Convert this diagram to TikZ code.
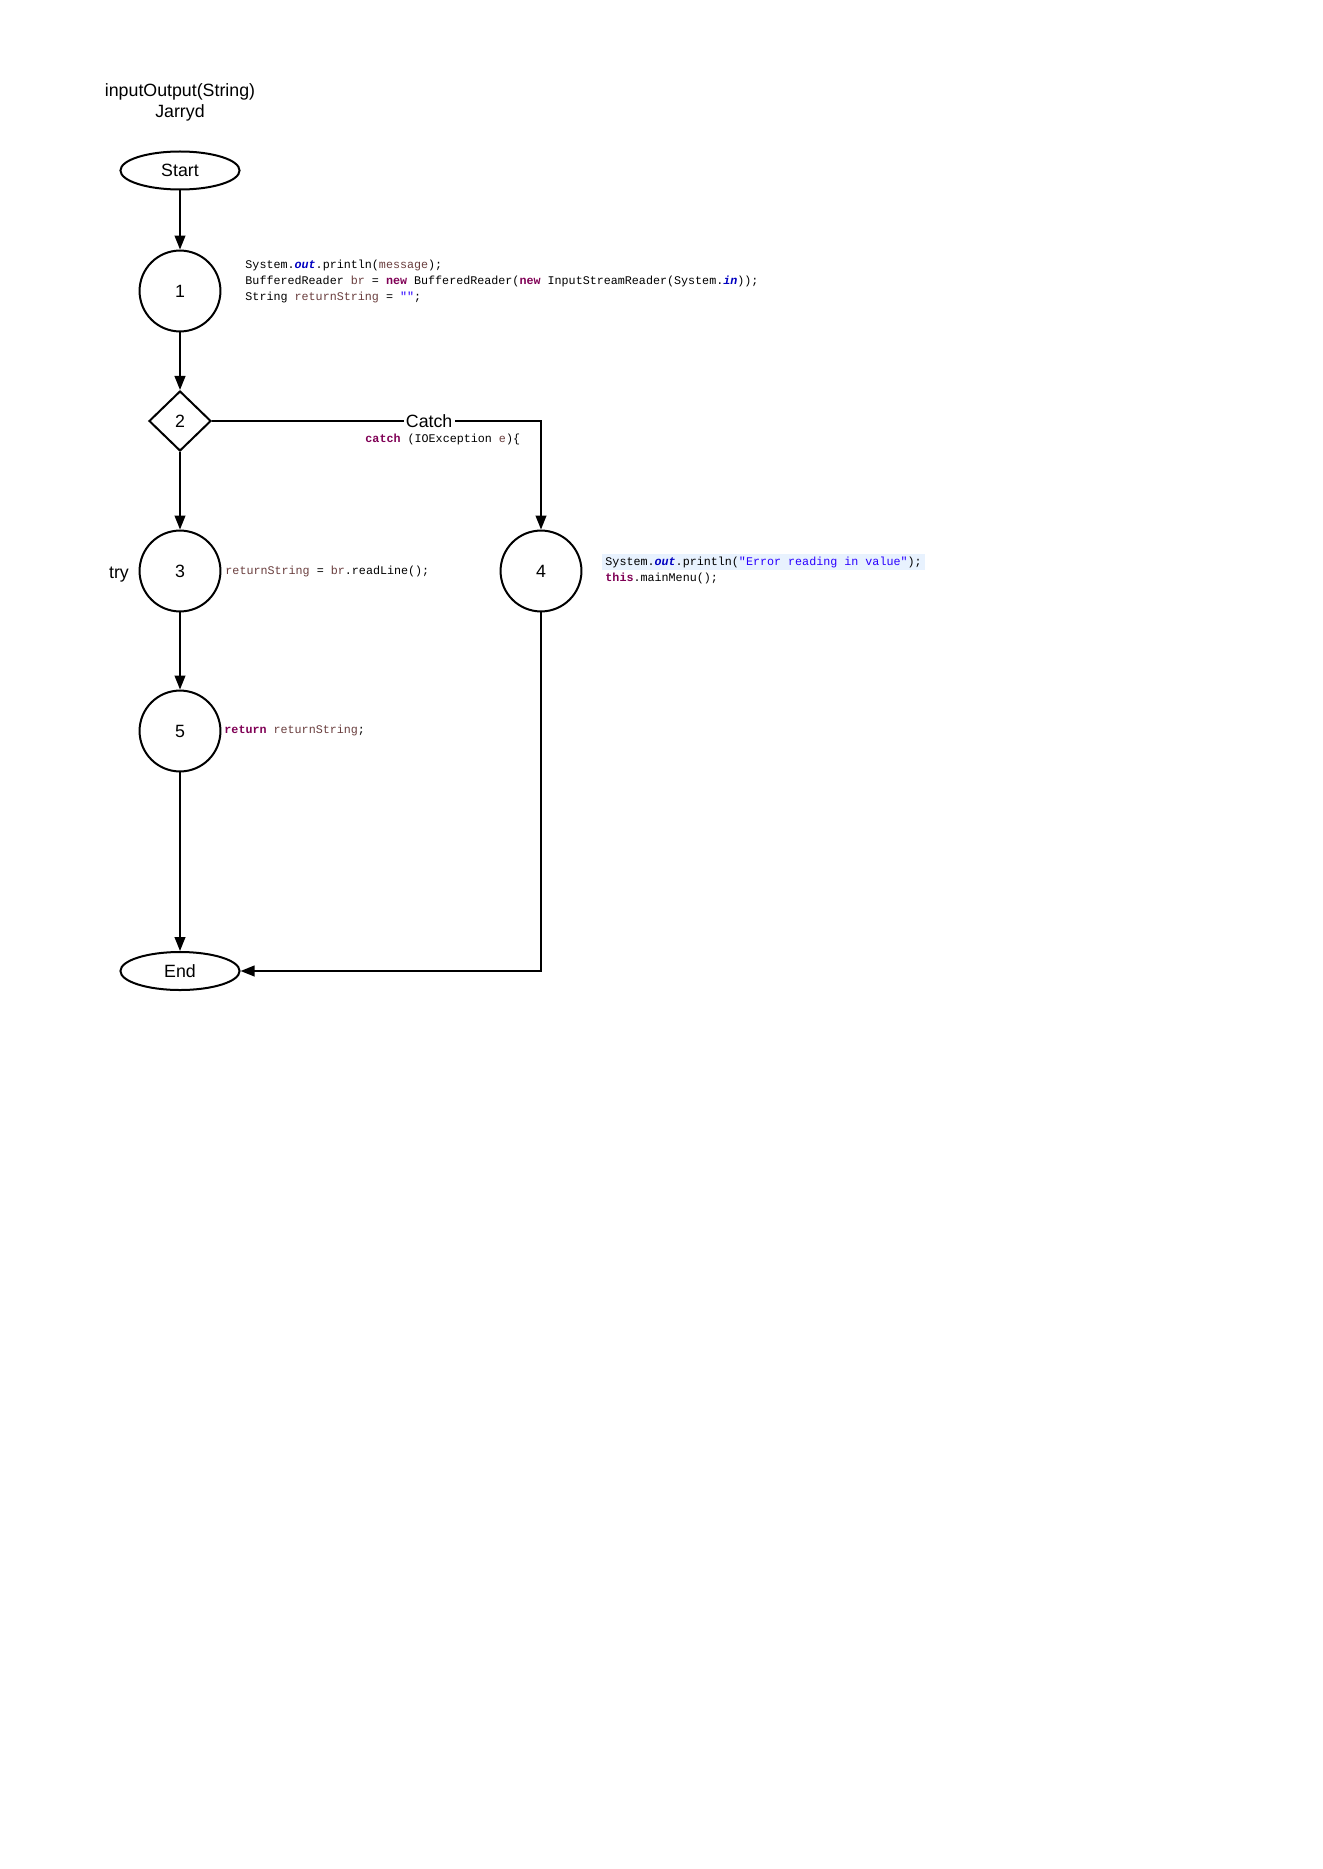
\documentclass[tikz,border=0pt]{standalone}
\usepackage{fontspec}
\setmainfont{Liberation Sans}
\newfontfamily\codefont{Liberation Mono}
\usetikzlibrary{shapes.geometric,arrows.meta}
\definecolor{kw}{HTML}{7F0055}
\definecolor{vr}{HTML}{6A3E3E}
\definecolor{fld}{HTML}{0000C0}
\definecolor{str}{HTML}{2A00FF}
\definecolor{hl}{HTML}{E8F2FE}
\newcommand{\K}[1]{\textcolor{kw}{\bfseries #1}}
\newcommand{\V}[1]{\textcolor{vr}{#1}}
\newcommand{\F}[1]{\textcolor{fld}{\bfseries\itshape #1}}
\newcommand{\St}[1]{\textcolor{str}{#1}}
\begin{document}
\begin{tikzpicture}[x=0.45pt,y=-0.45pt,
  every node/.style={font=\fontsize{8}{9.6}\selectfont},
  term/.style={draw,ellipse,line width=0.9pt,minimum width=53.6pt,minimum height=17.1pt,inner sep=0pt},
  cnode/.style={draw,circle,line width=0.9pt,minimum size=36.4pt,inner sep=0pt},
  dnode/.style={draw,diamond,line width=0.9pt,minimum width=27.9pt,minimum height=27pt,inner sep=0pt,aspect=1},
  arr/.style={line width=0.9pt,-{Triangle[length=6.3pt,width=4.8pt]}},
  code/.style={font=\codefont\fontsize{5.27}{7.1}\selectfont,anchor=west,align=left,inner sep=0pt}]
\useasboundingbox (0,0) rectangle (1323,1869);
\node[align=center] (title) at (180,102.5) {inputOutput(String)\\Jarryd};
\node[term] (start) at (180,170.5) {Start};
\node[cnode] (n1) at (180,291) {1};
\node[dnode] (d2) at (180,421) {2};
\node[cnode] (n3) at (180,571) {3};
\node[cnode] (n4) at (541,571) {4};
\node[cnode] (n5) at (180,731) {5};
\node[term] (end) at (180,971) {End};
\node (try) at (119,575) {try};
% code snippets
\node[code] (c1) at (245,281.5) {System.\F{out}.println(\V{message});\\BufferedReader \V{br} = \K{new} BufferedReader(\K{new} InputStreamReader(System.\F{in}));\\String \V{returnString} = \St{""};};
\node[code] (ccatch) at (365,439) {\K{catch} (IOException \V{e})\{};
\node[code] (c3) at (225,571) {\V{returnString} = \V{br}.readLine();};
\fill[hl] (602,554) rectangle (925,570);
\node[code] (c4) at (605,570.5) {System.\F{out}.println(\St{"Error reading in value"});\\\K{this}.mainMenu();};
\node[code] (c5) at (224,730) {\K{return} \V{returnString};};
% connectors
\draw[arr] (start) -- (n1);
\draw[arr] (n1) -- (d2);
\draw[arr] (d2) -- (n3);
\draw[arr] (d2.east) -| node[pos=0.33,fill=white,inner sep=1pt] {Catch} (n4.north);
\draw[arr] (n3) -- (n5);
\draw[arr] (n5) -- (end);
\draw[arr] (n4.south) |- (end.east);
\end{tikzpicture}
\end{document}
